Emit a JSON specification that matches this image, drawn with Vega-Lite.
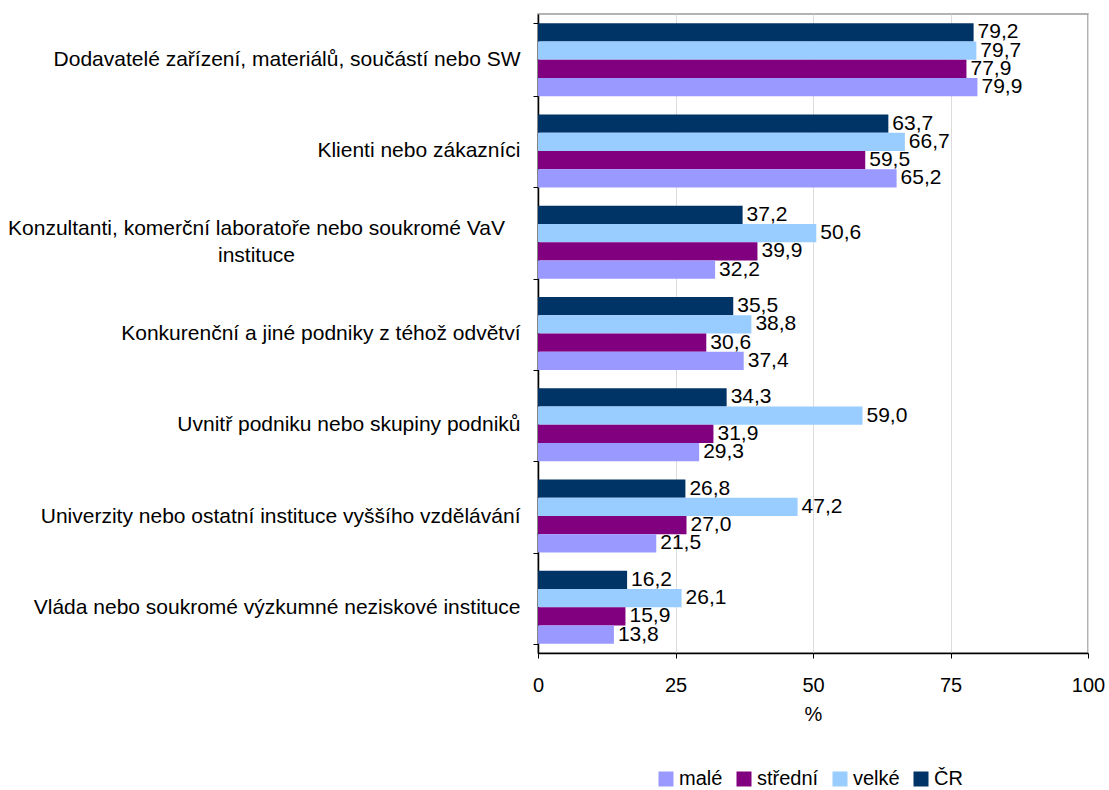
{
  "$schema": "https://vega.github.io/schema/vega-lite/v6.json",
  "width": 550,
  "height": 639,
  "autosize": {"type": "none"},
  "padding": {"left": 538, "top": 14, "right": 21, "bottom": 137},
  "background": "white",
  "config": {
    "font": "Liberation Sans",
    "view": {"stroke": "#9a9a9a", "strokeWidth": 1.5},
    "locale": {"number": {"decimal": ",", "thousands": " ", "grouping": [3], "currency": ["", " Kč"]}}
  },
  "data": {
    "values": [
      {"kategorie": "Dodavatelé zařízení, materiálů, součástí nebo SW", "skupina": "ČR", "hodnota": 79.2},
      {"kategorie": "Dodavatelé zařízení, materiálů, součástí nebo SW", "skupina": "velké", "hodnota": 79.7},
      {"kategorie": "Dodavatelé zařízení, materiálů, součástí nebo SW", "skupina": "střední", "hodnota": 77.9},
      {"kategorie": "Dodavatelé zařízení, materiálů, součástí nebo SW", "skupina": "malé", "hodnota": 79.9},
      {"kategorie": "Klienti nebo zákazníci", "skupina": "ČR", "hodnota": 63.7},
      {"kategorie": "Klienti nebo zákazníci", "skupina": "velké", "hodnota": 66.7},
      {"kategorie": "Klienti nebo zákazníci", "skupina": "střední", "hodnota": 59.5},
      {"kategorie": "Klienti nebo zákazníci", "skupina": "malé", "hodnota": 65.2},
      {"kategorie": "Konzultanti, komerční laboratoře nebo soukromé VaV|instituce", "skupina": "ČR", "hodnota": 37.2},
      {"kategorie": "Konzultanti, komerční laboratoře nebo soukromé VaV|instituce", "skupina": "velké", "hodnota": 50.6},
      {"kategorie": "Konzultanti, komerční laboratoře nebo soukromé VaV|instituce", "skupina": "střední", "hodnota": 39.9},
      {"kategorie": "Konzultanti, komerční laboratoře nebo soukromé VaV|instituce", "skupina": "malé", "hodnota": 32.2},
      {"kategorie": "Konkurenční a jiné podniky z téhož odvětví", "skupina": "ČR", "hodnota": 35.5},
      {"kategorie": "Konkurenční a jiné podniky z téhož odvětví", "skupina": "velké", "hodnota": 38.8},
      {"kategorie": "Konkurenční a jiné podniky z téhož odvětví", "skupina": "střední", "hodnota": 30.6},
      {"kategorie": "Konkurenční a jiné podniky z téhož odvětví", "skupina": "malé", "hodnota": 37.4},
      {"kategorie": "Uvnitř podniku nebo skupiny podniků", "skupina": "ČR", "hodnota": 34.3},
      {"kategorie": "Uvnitř podniku nebo skupiny podniků", "skupina": "velké", "hodnota": 59.0},
      {"kategorie": "Uvnitř podniku nebo skupiny podniků", "skupina": "střední", "hodnota": 31.9},
      {"kategorie": "Uvnitř podniku nebo skupiny podniků", "skupina": "malé", "hodnota": 29.3},
      {"kategorie": "Univerzity nebo ostatní instituce vyššího vzdělávání", "skupina": "ČR", "hodnota": 26.8},
      {"kategorie": "Univerzity nebo ostatní instituce vyššího vzdělávání", "skupina": "velké", "hodnota": 47.2},
      {"kategorie": "Univerzity nebo ostatní instituce vyššího vzdělávání", "skupina": "střední", "hodnota": 27.0},
      {"kategorie": "Univerzity nebo ostatní instituce vyššího vzdělávání", "skupina": "malé", "hodnota": 21.5},
      {"kategorie": "Vláda  nebo soukromé výzkumné neziskové instituce", "skupina": "ČR", "hodnota": 16.2},
      {"kategorie": "Vláda  nebo soukromé výzkumné neziskové instituce", "skupina": "velké", "hodnota": 26.1},
      {"kategorie": "Vláda  nebo soukromé výzkumné neziskové instituce", "skupina": "střední", "hodnota": 15.9},
      {"kategorie": "Vláda  nebo soukromé výzkumné neziskové instituce", "skupina": "malé", "hodnota": 13.8}
    ]
  },
  "encoding": {
    "y": {
      "field": "kategorie",
      "type": "nominal",
      "sort": null,
      "scale": {"paddingInner": 0.2, "paddingOuter": 0.1},
      "axis": {
        "title": null,
        "labelExpr": "datum.value ? split(datum.value, '|') : ''",
        "labelFontSize": 21,
        "labelColor": "#000",
        "labelLimit": 700,
        "labelLineHeight": 27,
        "labelPadding": {"condition": {"test": "datum.value && indexof(datum.value, '|') >= 0", "value": 277}, "value": 13},
        "labelAlign": {"condition": {"test": "datum.value && indexof(datum.value, '|') >= 0", "value": "center"}, "value": "right"},
        "labelOffset": {"condition": {"test": "datum.value && indexof(datum.value, '|') >= 0", "value": -13.5}, "value": 0},
        "tickBand": "extent",
        "tickSize": 5,
        "tickColor": "#000",
        "domainColor": "#000",
        "domainWidth": 1.5,
        "grid": false
      }
    },
    "yOffset": {
      "field": "skupina",
      "type": "nominal",
      "sort": ["ČR", "velké", "střední", "malé"],
      "scale": {"paddingInner": 0, "paddingOuter": 0}
    },
    "x": {
      "field": "hodnota",
      "type": "quantitative",
      "scale": {"domain": [0, 100], "nice": false},
      "axis": {
        "title": "%",
        "titleFontSize": 20,
        "titleFontWeight": "normal",
        "titleColor": "#000",
        "titlePadding": 9,
        "values": [0, 25, 50, 75, 100],
        "format": "d",
        "labelFontSize": 20,
        "labelColor": "#000",
        "labelPadding": 17,
        "tickSize": 5,
        "tickColor": "#000",
        "domainColor": "#000",
        "domainWidth": 1.5,
        "gridColor": "#dcdcdc",
        "labelFlush": false
      }
    }
  },
  "layer": [
    {
      "mark": {"type": "bar"},
      "encoding": {
        "color": {
          "field": "skupina",
          "type": "nominal",
          "sort": ["malé", "střední", "velké", "ČR"],
          "scale": {"domain": ["malé", "střední", "velké", "ČR"], "range": ["#9999FF", "#800080", "#99CCFF", "#003366"]},
          "legend": {
            "title": null,
            "orient": "none",
            "legendX": 118,
            "legendY": 755,
            "direction": "horizontal",
            "symbolType": "square",
            "symbolSize": 225,
            "symbolStrokeWidth": 0,
            "labelFontSize": 20,
            "labelColor": "#000",
            "labelOffset": 3,
            "columnPadding": 11
          }
        }
      }
    },
    {
      "mark": {"type": "text", "align": "left", "baseline": "middle", "dx": 4, "fontSize": 21, "color": "#000"},
      "encoding": {
        "text": {"field": "hodnota", "type": "quantitative", "format": ".1f"}
      }
    }
  ]
}
